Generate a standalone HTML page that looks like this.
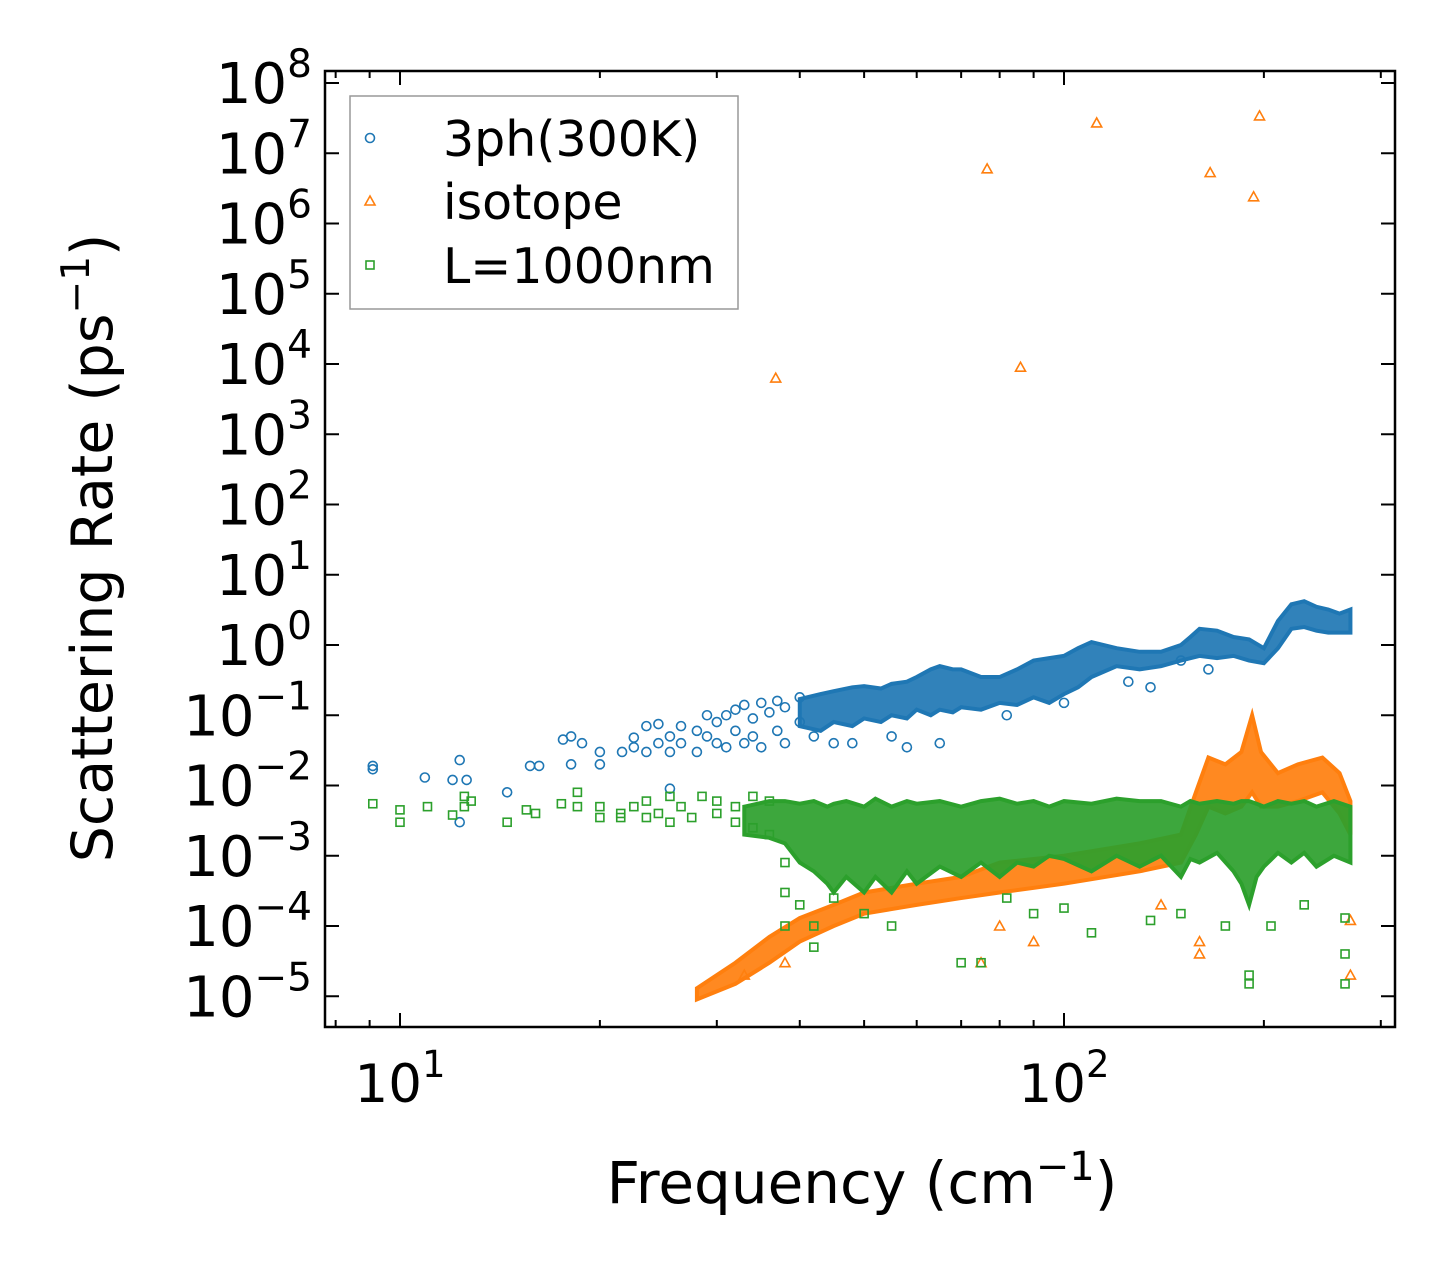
<!DOCTYPE html>
<html><head><meta charset="utf-8">
<style>
html,body{margin:0;padding:0;background:#fff;}
svg text{font-family:"DejaVu Sans","Liberation Sans",sans-serif;fill:#000;}
</style></head>
<body>
<svg id="chart" width="1455" height="1277" viewBox="0 0 1455 1277" xmlns="http://www.w3.org/2000/svg">
<rect x="0" y="0" width="1455" height="1277" fill="#fff"/>
<g id="plot"></g>
<g id="axes"></g>
<text x="862" y="1203" font-size="58" text-anchor="middle">Frequency (cm<tspan font-size="40" dy="-23">−1</tspan><tspan dy="23">)</tspan></text>
<text transform="translate(112,548) rotate(-90)" font-size="57" text-anchor="middle">Scattering Rate (ps<tspan font-size="39" dy="-23">−1</tspan><tspan dy="23">)</tspan></text>
<g>
<rect x="350" y="96" width="388" height="213" fill="#fff" stroke="#999" stroke-width="1.5"/>
<g><circle cx="370" cy="138" r="4.5" fill="none" stroke="#1f77b4" stroke-width="1.6"/><text x="443" y="156" font-size="49">3ph(300K)</text></g>
<g><path d="M370,196 L375,205 L365,205 Z" fill="none" stroke="#ff7f0e" stroke-width="1.6"/><text x="443" y="219" font-size="49">isotope</text></g>
<g><rect x="366" y="261" width="8" height="8" fill="none" stroke="#2ca02c" stroke-width="1.6"/><text x="443" y="283" font-size="49">L=1000nm</text></g>
</g>
</svg>
<script>
// ---- data ----
const blueFreq = [9.1,9.1,10.9,12,12.3,12.3,12.6,14.5,15.7,16.2,17.6,18.1,18.1,18.8,20,20,21.6,22.5,22.5,23.5,23.5,24.5,24.5,25.5,25.5,25.5,26.5,26.5,28,28,29,29,30,30,31,31,32,32,33,33,34,34,35,35,36,37,37,38,38,40,40,42,45,48,55,58,65,82,100,125,135,150,165];
const blueRate = [0.019,0.017,0.013,0.012,0.023,0.003,0.012,0.008,0.019,0.019,0.045,0.05,0.02,0.04,0.03,0.02,0.03,0.035,0.048,0.07,0.03,0.075,0.04,0.05,0.009,0.03,0.07,0.04,0.06,0.03,0.05,0.1,0.08,0.04,0.1,0.035,0.06,0.12,0.14,0.04,0.09,0.05,0.15,0.035,0.11,0.16,0.06,0.13,0.04,0.18,0.08,0.05,0.04,0.04,0.05,0.035,0.04,0.1,0.15,0.3,0.25,0.6,0.45];
const blueBandFreq = [40,43,45,48,50,53,55,58,60,63,65,68,70,75,80,85,90,95,100,105,110,120,130,140,150,155,160,170,180,190,200,210,220,230,240,250,260,270];
const blueBandLo = [0.07,0.06,0.08,0.07,0.09,0.08,0.1,0.09,0.12,0.1,0.12,0.11,0.13,0.12,0.15,0.14,0.18,0.15,0.2,0.25,0.35,0.5,0.45,0.5,0.6,0.65,0.7,0.65,0.7,0.6,0.55,0.9,1.7,1.8,1.6,1.5,1.5,1.5];
const blueBandHi = [0.17,0.2,0.22,0.25,0.26,0.24,0.28,0.3,0.35,0.45,0.5,0.45,0.45,0.35,0.35,0.45,0.6,0.65,0.7,0.9,1.1,0.9,0.8,0.8,1.0,1.3,1.7,1.6,1.3,1.2,0.9,2.2,3.8,4.2,3.5,3.2,2.8,3.2];

const isoFreq = [36.8,76.6,86,112,166,193,197,33,38,75,80,90,140,160,160,270,270];
const isoRate = [6300,6e6,9000,2.7e7,5.3e6,2.4e6,3.4e7,2e-5,3e-5,3e-5,1e-4,6e-5,2e-4,6e-5,4e-5,1.2e-4,2e-5];
const isoBandFreq = [28,32,36,40,45,50,60,70,80,100,130,150,158,165,175,185,192,198,210,225,245,260,270];
const isoBandLo = [9e-6,1.5e-5,3e-5,6e-5,1e-4,1.5e-4,2e-4,2.5e-4,3e-4,4e-4,6e-4,8e-4,2e-3,5e-3,4e-3,5e-3,8e-3,5e-3,5e-3,6e-3,8e-3,4e-3,2e-3];
const isoBandHi = [1.3e-5,3e-5,7e-5,1.3e-4,2e-4,3e-4,4e-4,5e-4,8e-4,1e-3,1.5e-3,2e-3,8e-3,0.025,0.02,0.03,0.1,0.03,0.015,0.02,0.025,0.015,0.006];

const bndFreq = [9.1,10,10,11,12,12.5,12.5,12.8,14.5,15.5,16,17.5,18.5,18.5,20,20,21.5,21.5,22.5,23.5,23.5,24.5,25.5,25.5,26.5,27.5,28.5,30,30,32,32,34,34,36,36,38,38,38,40,42,42,45,50,55,70,75,82,90,100,110,135,150,175,190,190,205,230,265,265,265];
const bndRate = [0.0055,0.0045,0.003,0.005,0.0038,0.007,0.005,0.006,0.003,0.0045,0.004,0.0055,0.008,0.005,0.005,0.0035,0.0035,0.004,0.005,0.0035,0.006,0.004,0.007,0.003,0.005,0.0035,0.007,0.004,0.006,0.005,0.003,0.007,0.0025,0.006,0.002,0.0008,0.0003,0.0001,0.0002,0.0001,0.00005,0.00025,0.00015,0.0001,0.00003,0.00003,0.00025,0.00015,0.00018,0.00008,0.00012,0.00015,0.0001,0.000015,0.00002,0.0001,0.0002,0.00013,0.00004,0.000015];
const bndBandFreq = [33,36,38,40,42,44,45,47,50,52,55,58,60,65,70,75,80,85,90,95,100,110,120,130,140,150,155,160,170,180,185,190,195,200,210,220,230,240,255,270];
const bndBandLo = [0.002,0.0018,0.0015,0.0008,0.0006,0.0004,0.0003,0.0005,0.0003,0.0005,0.0003,0.0006,0.0004,0.0007,0.0005,0.0008,0.0005,0.0008,0.0007,0.001,0.0009,0.0006,0.001,0.0007,0.001,0.0005,0.0009,0.0008,0.0011,0.0006,0.0004,0.0002,0.0005,0.0007,0.0011,0.0008,0.0011,0.0007,0.001,0.0008];
const bndBandHi = [0.005,0.006,0.006,0.0055,0.006,0.005,0.0055,0.006,0.005,0.0065,0.005,0.006,0.0055,0.006,0.005,0.006,0.0065,0.0055,0.006,0.005,0.006,0.0055,0.0065,0.006,0.006,0.005,0.006,0.0055,0.006,0.0055,0.006,0.006,0.0055,0.005,0.006,0.0055,0.006,0.005,0.006,0.005];

const yTickExp = [8,7,6,5,4,3,2,1,0,-1,-2,-3,-4,-5];
const xTickExp = [1,2];

// ---- scales ----
const L=325,R=1395,T=71,B=1027;
const X0=400, XD=664;
const Y0=83, YD=70.25;
const sx = f => X0 + (Math.log10(f)-1)*XD;
const sy = v => Y0 + (8-Math.log10(v))*YD;
const NS='http://www.w3.org/2000/svg';
const plot=document.getElementById('plot'), axes=document.getElementById('axes');
function mk(tag,attrs,parent){const e=document.createElementNS(NS,tag);for(const k in attrs)e.setAttribute(k,attrs[k]);parent.appendChild(e);return e;}

function band(fr,lo,hi,color,name){
  const pts=[];
  for(let i=0;i<fr.length;i++)pts.push(sx(fr[i])+','+sy(hi[i]));
  for(let i=fr.length-1;i>=0;i--)pts.push(sx(fr[i])+','+sy(lo[i]));
  const p=mk('polygon',{points:pts.join(' '),fill:color,'fill-opacity':0.92,stroke:color,'stroke-width':4,'stroke-linejoin':'miter'},plot);
  
  
}
function scatter(fr,val,color,shape,name){
  for(let i=0;i<fr.length;i++){
    const x=sx(fr[i]),y=sy(val[i]);let e;
    if(shape==='c')e=mk('circle',{cx:x,cy:y,r:4.5,fill:'none',stroke:color,'stroke-width':1.6},plot);
    else if(shape==='t')e=mk('path',{d:`M${x},${y-5} L${x+5},${y+4} L${x-5},${y+4} Z`,fill:'none',stroke:color,'stroke-width':1.6},plot);
    else e=mk('rect',{x:x-4,y:y-4,width:8,height:8,fill:'none',stroke:color,'stroke-width':1.6},plot);
    
    
  }
}
band(blueBandFreq,blueBandLo,blueBandHi,'#1f77b4','band-3ph');
scatter(blueFreq,blueRate,'#1f77b4','c','point-3ph');
band(isoBandFreq,isoBandLo,isoBandHi,'#ff7f0e','band-isotope');
scatter(isoFreq,isoRate,'#ff7f0e','t','point-isotope');
band(bndBandFreq,bndBandLo,bndBandHi,'#2ca02c','band-boundary');
scatter(bndFreq,bndRate,'#2ca02c','s','point-boundary');

const fr=mk('rect',{x:L,y:T,width:R-L,height:B-T,fill:'none',stroke:'#000','stroke-width':2.5},axes);


yTickExp.forEach(e=>{
  const y=sy(Math.pow(10,e));
  mk('line',{x1:L,x2:L+14,y1:y,y2:y,stroke:'#000','stroke-width':2},axes);
  mk('line',{x1:R,x2:R-14,y1:y,y2:y,stroke:'#000','stroke-width':2},axes);
  const t=mk('text',{x:312,y:y+20,'font-size':56,'text-anchor':'end'},axes);
  
  
  const base=String(e).replace('-','−');
  t.innerHTML='10<tspan font-size="39" dy="-26">'+base+'</tspan>';
});
for(let d=0;d<=2;d++){
  for(let m=1;m<=9;m++){
    const f=m*Math.pow(10,d);const x=sx(f);
    if(x<L+1||x>R-1)continue;
    const len=m===1?14:7;
    mk('line',{x1:x,x2:x,y1:B,y2:B-len,stroke:'#000','stroke-width':2},axes);
    mk('line',{x1:x,x2:x,y1:T,y2:T+len,stroke:'#000','stroke-width':2},axes);
  }
}
xTickExp.forEach(e=>{
  const x=sx(Math.pow(10,e));
  const t=mk('text',{x:x,y:1102,'font-size':53,'text-anchor':'middle'},axes);
  
  
  t.innerHTML='10<tspan font-size="37" dy="-25">'+e+'</tspan>';
});
</script>
</body></html>
